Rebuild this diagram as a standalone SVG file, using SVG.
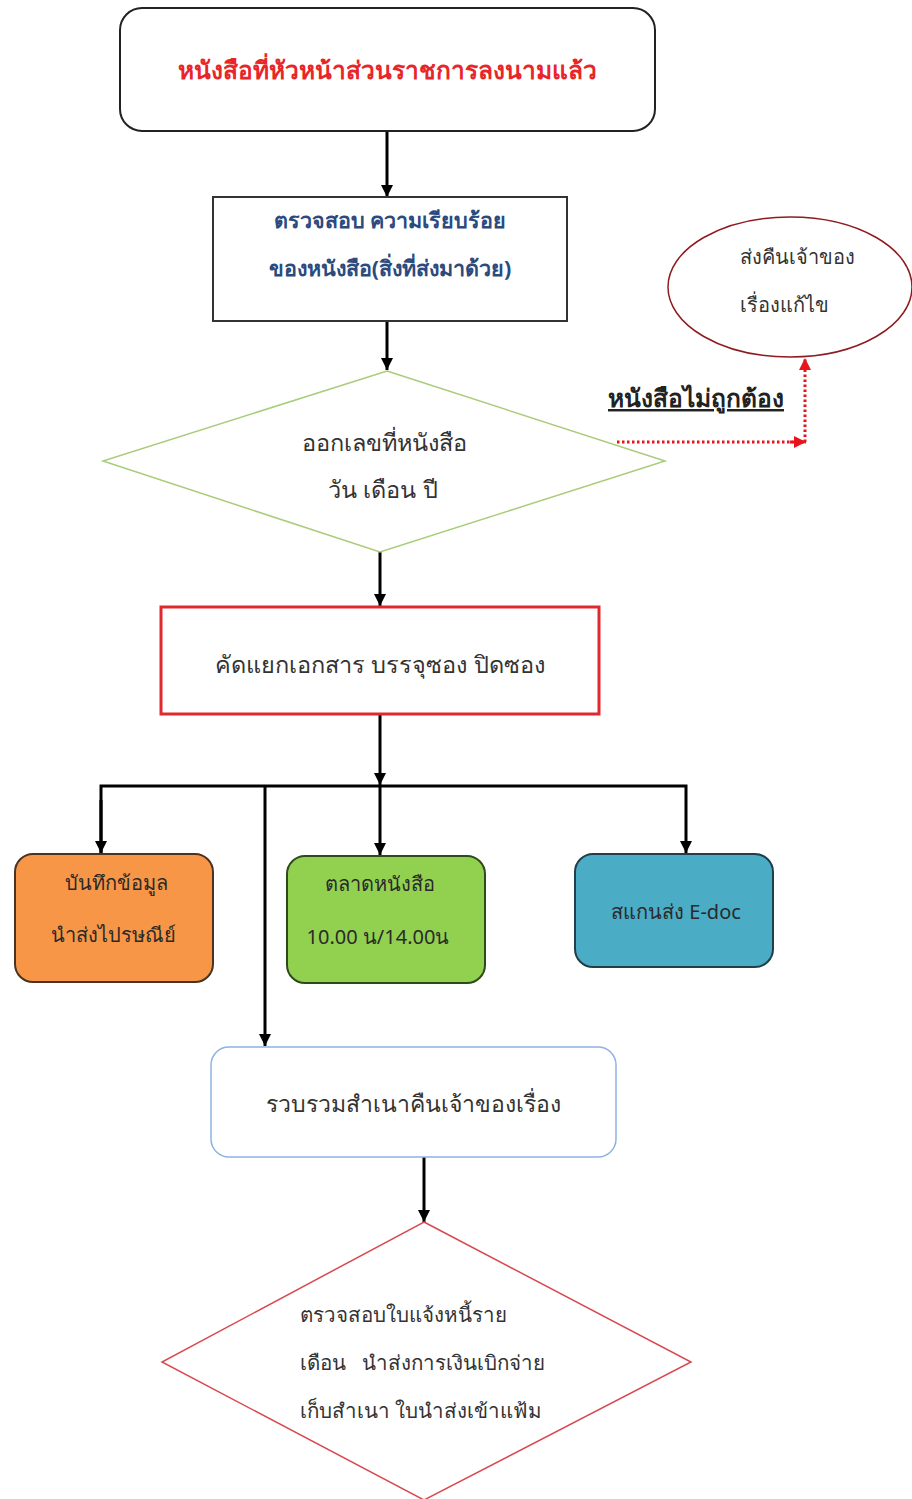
<svg xmlns="http://www.w3.org/2000/svg" width="912" height="1499" viewBox="0 0 912 1499">
<style>
text{font-family:"Noto Sans","DejaVu Sans",sans-serif;}
.t{font-size:23.5px;fill:#333;text-anchor:middle;}
.box{font-size:20px;fill:#2a2a2a;text-anchor:middle;}
.conn{stroke:#000;stroke-width:3;fill:none;}
.dot{stroke:#E8141B;stroke-width:3;stroke-dasharray:2.5,2.5;fill:none;}
</style>
<defs>
<marker id="ah" viewBox="0 0 10 10" refX="10" refY="5" markerWidth="4" markerHeight="4" markerUnits="strokeWidth" orient="auto"><path d="M0,0L10,5L0,10z" fill="#000"/></marker>
<marker id="ahr" viewBox="0 0 10 10" refX="10" refY="5" markerWidth="4" markerHeight="4" markerUnits="strokeWidth" orient="auto"><path d="M0,0L10,5L0,10z" fill="#E8141B"/></marker>
</defs>
<rect width="912" height="1499" fill="#fff"/>
<g id="connectors">
<line class="conn" x1="387" y1="131" x2="387" y2="197" marker-end="url(#ah)"/>
<line class="conn" x1="387" y1="321" x2="387" y2="370" marker-end="url(#ah)"/>
<line class="conn" x1="380" y1="552" x2="380" y2="606" marker-end="url(#ah)"/>
<line class="conn" x1="380" y1="714" x2="380" y2="785" marker-end="url(#ah)"/>
<polyline class="conn" points="101,853 101,786 686,786 686,853" marker-end="url(#ah)"/>
<line class="conn" x1="101" y1="800" x2="101" y2="853" marker-end="url(#ah)"/>
<line class="conn" x1="380" y1="786" x2="380" y2="855" marker-end="url(#ah)"/>
<line class="conn" x1="265" y1="786" x2="265" y2="1046" marker-end="url(#ah)"/>
<line class="conn" x1="424" y1="1157" x2="424" y2="1222" marker-end="url(#ah)"/>
<polyline class="dot" points="617,442 805,442"/>
<line class="dot" x1="790" y1="442" x2="806" y2="442" marker-end="url(#ahr)"/>
<line class="dot" x1="805" y1="442" x2="805" y2="358" marker-end="url(#ahr)"/>
<text x="608" y="407" style="font-size:24.5px;font-weight:bold;fill:#222;text-decoration:underline;">หนังสือไม่ถูกต้อง</text>
</g>
<g id="n-title">
<rect x="120" y="8" width="535" height="123" rx="22" fill="#fff" stroke="#222" stroke-width="2"/>
<text x="387" y="79" style="font-size:24.5px;font-weight:bold;fill:#E8262A;text-anchor:middle;">หนังสือที่หัวหน้าส่วนราชการลงนามแล้ว</text>
</g>
<g id="n-check">
<rect x="213" y="197" width="354" height="124" fill="#fff" stroke="#333" stroke-width="2"/>
<text x="390" y="228" style="font-size:21.5px;font-weight:bold;fill:#2B4A7E;text-anchor:middle;">ตรวจสอบ ความเรียบร้อย</text>
<text x="390" y="276" style="font-size:21.5px;font-weight:bold;fill:#2B4A7E;text-anchor:middle;">ของหนังสือ(สิ่งที่ส่งมาด้วย)</text>
</g>
<g id="n-return">
<ellipse cx="790" cy="287" rx="122" ry="70" fill="#fff" stroke="#8E1B1F" stroke-width="1.5"/>
<text class="t" x="797" y="264" style="font-size:20px;">ส่งคืนเจ้าของ</text>
<text class="t" x="784" y="312" style="font-size:20px;">เรื่องแก้ไข</text>
</g>
<g id="n-number">
<polygon points="387,371 665,461 380,552 103,461" fill="#fff" stroke="#A9CC7A" stroke-width="1.5"/>
<text class="t" x="384" y="451">ออกเลขที่หนังสือ</text>
<text class="t" x="383" y="498">วัน เดือน ปี</text>
</g>
<g id="n-sort">
<rect x="161" y="607" width="438" height="107" fill="#fff" stroke="#E0282E" stroke-width="3"/>
<text class="t" x="380" y="673">คัดแยกเอกสาร บรรจุซอง ปิดซอง</text>
</g>
<g id="n-post">
<rect x="15" y="854" width="198" height="128" rx="18" fill="#F79646" stroke="#4a3320" stroke-width="2"/>
<text class="box" x="116" y="890">บันทึกข้อมูล</text>
<text class="box" x="113" y="942">นำส่งไปรษณีย์</text>
</g>
<g id="n-market">
<rect x="287" y="856" width="198" height="127" rx="18" fill="#92D050" stroke="#2f4a1a" stroke-width="2"/>
<text class="box" x="380" y="891">ตลาดหนังสือ</text>
<text class="box" x="378" y="944">10.00 น/14.00น</text>
</g>
<g id="n-scan">
<rect x="575" y="854" width="198" height="113" rx="18" fill="#4BACC6" stroke="#1f3f4a" stroke-width="2"/>
<text class="box" x="676" y="919">สแกนส่ง E-doc</text>
</g>
<g id="n-collect">
<rect x="211" y="1047" width="405" height="110" rx="18" fill="#fff" stroke="#8DB3E2" stroke-width="1.5"/>
<text class="t" x="413" y="1112" style="font-size:23px;">รวบรวมสำเนาคืนเจ้าของเรื่อง</text>
</g>
<g id="n-verify">
<polygon points="424,1222 691,1362 424,1500 162,1362" fill="#fff" stroke="#D9484F" stroke-width="1.5"/>
<text x="300" y="1322" style="font-size:20.5px;fill:#333;">ตรวจสอบใบแจ้งหนี้ราย</text>
<text x="300" y="1370" style="font-size:20.5px;fill:#333;" xml:space="preserve">เดือน   นำส่งการเงินเบิกจ่าย</text>
<text x="300" y="1418" style="font-size:20.5px;fill:#333;">เก็บสำเนา ใบนำส่งเข้าแฟ้ม</text>
</g>
</svg>
